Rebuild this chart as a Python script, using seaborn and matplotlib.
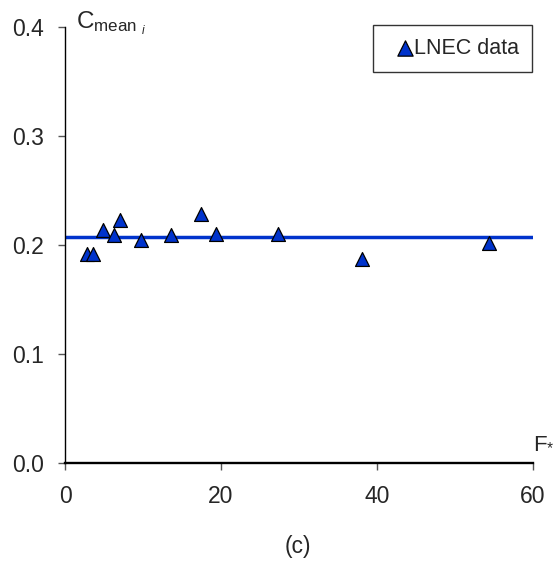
import matplotlib
matplotlib.use("Agg")
import matplotlib.pyplot as plt
import seaborn as sns
import pandas as pd

sns.set_style("white")
plt.rcParams['font.family'] = ['Liberation Sans', 'DejaVu Sans']
plt.rcParams['mathtext.fontset'] = 'custom'
plt.rcParams['mathtext.rm'] = 'Liberation Sans'
plt.rcParams['mathtext.it'] = 'Liberation Sans:italic'

f_star = [2.8, 3.6, 4.9, 6.3, 7.0, 9.8, 13.6, 17.4, 19.35, 27.3, 38.1, 54.35]
c_mean = [0.192, 0.192, 0.214, 0.209, 0.223, 0.205, 0.209, 0.228, 0.210, 0.210, 0.187, 0.202]
mean_value = 0.207
x_ticks = [0, 20, 40, 60]
y_ticks = [0.0, 0.1, 0.2, 0.3, 0.4]

df = pd.DataFrame({"F": f_star, "C": c_mean})

fig = plt.figure(figsize=(5.54, 5.64), dpi=100)
ax = fig.add_axes([65 / 554, 101 / 564, 468 / 554, 436 / 564])

ax.plot([0, 60], [mean_value, mean_value], color="#0033CC", lw=2.5, zorder=2,
        solid_capstyle="butt")
sns.scatterplot(data=df, x="F", y="C", ax=ax, marker="^", s=100, color="#0033CC",
                edgecolor="black", linewidth=0.9, zorder=3, label="LNEC data", clip_on=False)

ax.set_xlim(0, 60)
ax.set_ylim(0, 0.4)
ax.set_xticks(x_ticks)
ax.set_yticks(y_ticks)
ax.set_xticklabels([str(t) for t in x_ticks])
ax.set_yticklabels([f"{t:.1f}" for t in y_ticks])
ax.set_xlabel("")
ax.set_ylabel("")

for s in ["top", "right"]:
    ax.spines[s].set_visible(False)
ax.spines["left"].set_color("black")
ax.spines["left"].set_linewidth(1.0)
ax.spines["bottom"].set_color("black")
ax.spines["bottom"].set_linewidth(1.7)
ax.tick_params(axis="y", direction="out", length=5, width=1, color="#555555",
               labelsize=16.5, pad=10, left=True)
ax.tick_params(axis="x", direction="out", length=5, width=1, color="#555555",
               labelsize=16.5, pad=10.5, bottom=True)

ax.text(1.4, 0.998, r"C$_{\mathrm{mean}\ _{\mathit{i}}}$",
        transform=ax.get_xaxis_transform(),
        fontsize=17.5, va="baseline", ha="left")
ax.text(1.0, 0.034, r"F$_{*}$", transform=ax.transAxes, fontsize=16,
        ha="left", va="baseline")

leg = ax.legend(loc="upper right", bbox_to_anchor=(0.998, 1.005), borderaxespad=0,
                fontsize=15.5, frameon=True, fancybox=False, edgecolor="black",
                borderpad=0.6, handlelength=1.74, handletextpad=-0.43, markerscale=1.1)
leg.get_frame().set_linewidth(1.0)

fig.text(298 / 554, 17 / 564, "(c)", fontsize=16.5, ha="center", va="center")

fig.savefig("out.png", dpi=100)
